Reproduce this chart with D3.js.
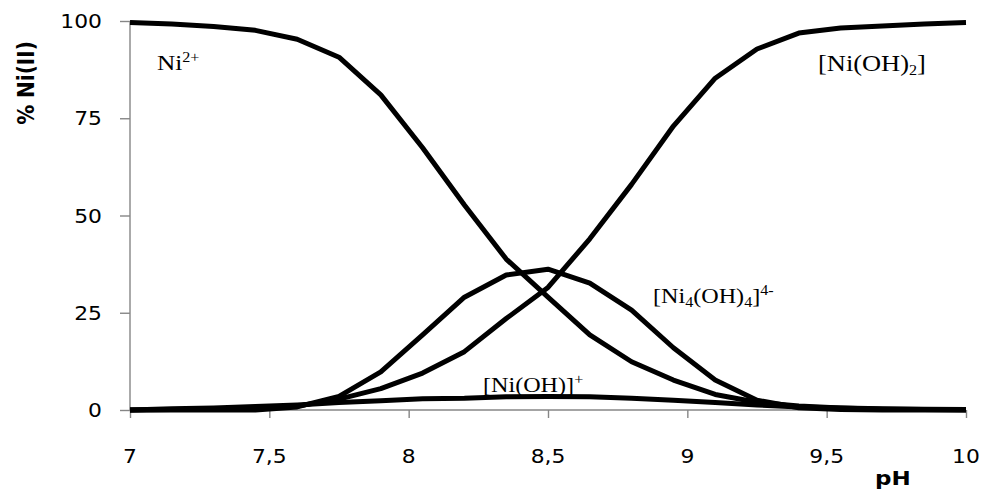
<!DOCTYPE html>
<html>
<head>
<meta charset="utf-8">
<script src="https://cdn.jsdelivr.net/npm/d3@7"></script>
<style>
  body { margin: 0; background: #fff; }
  svg { display: block; }
</style>
</head>
<body>
<div id="chart"></div>
<script>
const width = 984;
const height = 497;

// pH values (step 0.15)
const ph = [7, 7.15, 7.3, 7.45, 7.6, 7.75, 7.9, 8.05, 8.2, 8.35, 8.5, 8.65, 8.8, 8.95, 9.1, 9.25, 9.4, 9.55, 9.7, 9.85, 10];

// % Ni(II) for each species
const ni2 = [99.6, 99.2, 98.6, 97.6, 95.3, 90.7, 81, 67.4, 52.7, 38.8, 29, 19.3, 12.4, 7.7, 4, 2, 1, 0.5, 0.2, 0.1, 0];
const niOH = [0, 0.3, 0.5, 0.9, 1.3, 1.9, 2.4, 2.9, 3.0, 3.4, 3.5, 3.4, 3.0, 2.5, 1.9, 1.3, 0.8, 0.5, 0.3, 0.2, 0.1];
const ni4OH4 = [0, 0, 0, 0, 0.8, 3.5, 9.8, 19.3, 29, 34.7, 36.2, 32.6, 25.7, 16, 7.7, 2.5, 0.6, 0.1, 0, 0, 0];
const niOH2 = [0, 0.1, 0.2, 0.4, 1.0, 2.8, 5.5, 9.5, 15, 23.5, 31.5, 44, 58, 73, 85.3, 92.8, 96.9, 98.2, 98.7, 99.2, 99.6];

const xTicks = [7, 7.5, 8, 8.5, 9, 9.5, 10];
const yTicks = [0, 25, 50, 75, 100];

const series = [ni2, niOH, ni4OH4, niOH2];

const x = d3.scaleLinear().domain([7, 10]).range([130, 966]);
const y = d3.scaleLinear().domain([0, 100]).range([410, 21]);

const svg = d3.select("#chart").append("svg")
    .attr("width", width)
    .attr("height", height);

const axisColor = "#868686";
const sx = 1.15; // the original picture is a bit stretched in width

// assi
const gx = svg.append("g")
    .attr("transform", `translate(0,${y(0)})`)
    .call(d3.axisBottom(x).tickValues(xTicks).tickSize(8).tickFormat(""));
const gy = svg.append("g")
    .attr("transform", `translate(${x(7)},0)`)
    .call(d3.axisLeft(y).tickValues(yTicks).tickSize(10).tickFormat(""));
svg.selectAll(".domain, .tick line")
    .attr("stroke", axisColor)
    .attr("stroke-width", 1.4);
gx.select(".domain").attr("d", `M${x(7)},0H${x(10)}`);
gy.select(".domain").attr("d", `M0,${y(0)}V${y(100)}`);

// etichette dei tick
svg.append("g").selectAll("g")
    .data(xTicks)
    .join("g")
    .attr("transform", d => `translate(${x(d)},463) scale(${sx},1)`)
    .append("text")
    .attr("text-anchor", "middle")
    .attr("font-family", "DejaVu Sans")
    .attr("font-size", 19)
    .text(d => String(d).replace(".", ","));

svg.append("g").selectAll("g")
    .data(yTicks)
    .join("g")
    .attr("transform", d => `translate(102,${y(d) + 7}) scale(${sx},1)`)
    .append("text")
    .attr("text-anchor", "end")
    .attr("font-family", "DejaVu Sans")
    .attr("font-size", 19)
    .text(d => d);

// titoli degli assi
svg.append("g")
    .attr("transform", `translate(34,83) scale(${sx},1) rotate(-90)`)
    .append("text")
    .attr("text-anchor", "middle")
    .attr("font-family", "DejaVu Sans")
    .attr("font-weight", "bold")
    .attr("font-size", 20)
    .text("% Ni(II)");

svg.append("g")
    .attr("transform", `translate(875,485) scale(${sx},1)`)
    .append("text")
    .attr("font-family", "DejaVu Sans")
    .attr("font-weight", "bold")
    .attr("font-size", 20)
    .text("pH");

// curve
const line = d3.line()
    .x((d, i) => x(ph[i]))
    .y(d => y(d));

svg.append("g").selectAll("path")
    .data(series)
    .join("path")
    .attr("d", line)
    .attr("fill", "none")
    .attr("stroke", "#000")
    .attr("stroke-width", 5)
    .attr("stroke-linejoin", "round");

// etichette delle specie
const labels = [
    { x: 157, y: 70, size: 22, parts: [["Ni", 0], ["2+", 1]] },
    { x: 818, y: 71, size: 23, parts: [["[Ni(OH)", 0], ["2", -1], ["]", 0]] },
    { x: 653, y: 303, size: 21, parts: [["[Ni", 0], ["4", -1], ["(OH)", 0], ["4", -1], ["]", 0], ["4-", 1]] },
    { x: 483, y: 392, size: 21, parts: [["[Ni(OH)]", 0], ["+", 1]] }
];

labels.forEach(l => {
    const t = svg.append("g")
        .attr("transform", `translate(${l.x},${l.y}) scale(${sx},1)`)
        .append("text")
        .attr("font-family", "Liberation Serif")
        .attr("font-size", l.size);
    let prev = 0;
    l.parts.forEach(([s, pos]) => {
        const shift = pos === 1 ? -8 : pos === -1 ? 4 : 0;
        t.append("tspan")
            .attr("dy", shift - prev)
            .attr("font-size", pos === 0 ? l.size : 14)
            .text(s);
        prev = shift;
    });
});
</script>
</body>
</html>
